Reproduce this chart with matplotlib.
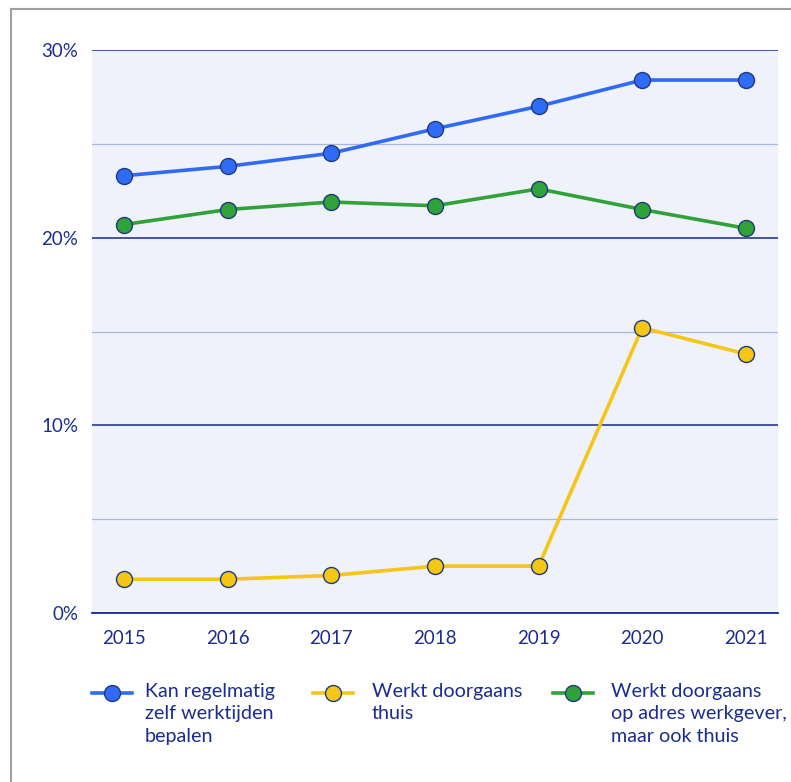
import matplotlib.pyplot as plt
from matplotlib.lines import Line2D
from matplotlib.ticker import MultipleLocator, FuncFormatter

years = [2015, 2016, 2017, 2018, 2019, 2020, 2021]
zelf_werktijden = [23.3, 23.8, 24.5, 25.8, 27.0, 28.4, 28.4]
thuis = [1.8, 1.8, 2.0, 2.5, 2.5, 15.2, 13.8]
werkgever_en_thuis = [20.7, 21.5, 21.9, 21.7, 22.6, 21.5, 20.5]

labels = ["Kan regelmatig\nzelf werktijden\nbepalen",
          "Werkt doorgaans\nthuis",
          "Werkt doorgaans\nop adres werkgever,\nmaar ook thuis"]
colors = ["#2f6bf6", "#f5c518", "#2fa33a"]
series = [zelf_werktijden, thuis, werkgever_en_thuis]

navy = "#1b2d8f"
edge = "#1f3a7a"

plt.rcParams['font.family'] = ['Lato', 'DejaVu Sans']

fig = plt.figure(figsize=(7.91, 7.82), dpi=100)
W, H = 791, 782
ax = fig.add_axes([92 / W, 1 - 613 / H, (778 - 92) / W, (613 - 50) / H])
ax.set_facecolor("#eff2fa")

x = list(range(len(years)))
# draw order: yellow, green, blue on top
for i in [1, 2, 0]:
    ax.plot(x, series[i], color=colors[i], lw=2.6, marker='o', ms=11.5,
            mfc=colors[i], mec=edge, mew=1.0, zorder=3 + i, clip_on=False)

ax.set_xlim(-0.31, 6.31)
ax.set_ylim(0, 30)
ax.yaxis.set_major_locator(MultipleLocator(10))
ax.yaxis.set_minor_locator(MultipleLocator(5))
ax.yaxis.set_major_formatter(FuncFormatter(lambda v, p: f"{int(v)}%"))
ax.grid(which='major', axis='y', color="#16288a", lw=1.1, zorder=1)
ax.grid(which='minor', axis='y', color="#a9b6e0", lw=0.9, zorder=1)
ax.set_axisbelow(True)
ax.set_xticks(x)
ax.set_xticklabels([str(y) for y in years])
for s in ['top', 'right', 'left']:
    ax.spines[s].set_visible(False)
ax.spines['bottom'].set_color(navy)
ax.spines['bottom'].set_linewidth(1.3)
ax.tick_params(axis='both', which='both', length=0, labelsize=13.5, labelcolor=navy)
ax.tick_params(axis='x', pad=12)
ax.tick_params(axis='y', pad=10)

# legend, drawn by hand
handle_x = [92, 313, 553]
text_x = [145, 372, 611]
for i in range(3):
    y = 1 - 693 / H
    fig.add_artist(Line2D([handle_x[i] / W, (handle_x[i] + 40) / W], [y, y],
                          transform=fig.transFigure, color=colors[i], lw=2.6))
    fig.add_artist(Line2D([(handle_x[i] + 20) / W], [y], transform=fig.transFigure,
                          marker='o', ms=11.5, mfc=colors[i], mec=edge, mew=1.0, lw=0))
    fig.text(text_x[i] / W, 1 - 683 / H, labels[i], color=navy, fontsize=14.2,
             va='top', ha='left', linespacing=1.38)

# grey frame at left/top
fig.add_artist(Line2D([11 / W, 11 / W], [0, 1 - 9 / H], transform=fig.transFigure,
                      color="#a0a0a0", lw=1.5))
fig.add_artist(Line2D([11 / W, 1], [1 - 9 / H, 1 - 9 / H], transform=fig.transFigure,
                      color="#a0a0a0", lw=1.5))

fig.savefig("out.png", dpi=100)
